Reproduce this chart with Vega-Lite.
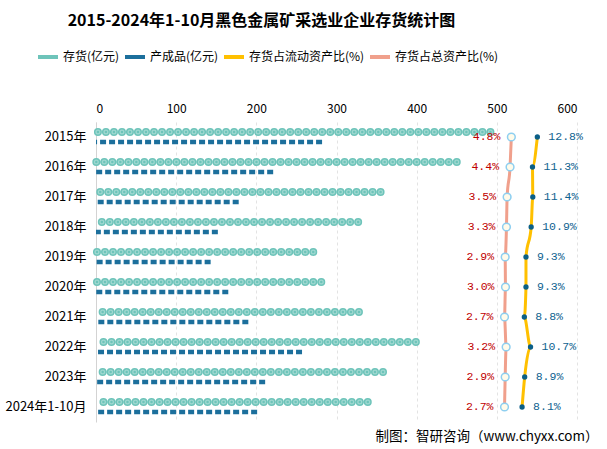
{
  "$schema": "https://vega.github.io/schema/vega-lite/v6.json",
  "autosize": "none",
  "padding": {"left": 96, "top": 122, "right": 30, "bottom": 27},
  "width": 481,
  "height": 300,
  "background": "white",
  "config": {"view": {"stroke": null}, "font": "Noto Sans CJK SC"},
  "title": {"text": "2015-2024年1-10月黑色金属矿采选业企业存货统计图", "font": "Noto Sans CJK SC", "fontSize": 16, "fontWeight": "bold", "color": "#000000", "anchor": "middle", "dx": -75, "offset": 16},
  "data": {"values": [
    {"year": "2015年", "stock": 497, "product": 282, "cur": 0.128, "tot": 0.048},
    {"year": "2016年", "stock": 455, "product": 221, "cur": 0.113, "tot": 0.044},
    {"year": "2017年", "stock": 360, "product": 178, "cur": 0.114, "tot": 0.035},
    {"year": "2018年", "stock": 332, "product": 152, "cur": 0.109, "tot": 0.033},
    {"year": "2019年", "stock": 276, "product": 143, "cur": 0.093, "tot": 0.029},
    {"year": "2020年", "stock": 286, "product": 165, "cur": 0.093, "tot": 0.030},
    {"year": "2021年", "stock": 333, "product": 190, "cur": 0.088, "tot": 0.027},
    {"year": "2022年", "stock": 404, "product": 257, "cur": 0.107, "tot": 0.032},
    {"year": "2023年", "stock": 363, "product": 211, "cur": 0.089, "tot": 0.029},
    {"year": "2024年1-10月", "stock": 344, "product": 201, "cur": 0.081, "tot": 0.027}
  ]},
  "encoding": {
    "y": {"field": "year", "type": "nominal", "sort": null,
      "axis": {"title": null, "ticks": false, "domain": true, "domainColor": "#d3d3d3", "labelPadding": 10, "labelFontSize": 13, "labelColor": "#000000", "labelFont": "Noto Sans CJK SC", "grid": false}}
  },
  "layer": [
    {
      "layer": [
        {
          "mark": {"type": "rule", "strokeWidth": 8, "strokeCap": "round", "strokeDash": [0.01, 8], "yOffset": -5, "xOffset": -4},
          "encoding": {
            "x": {"field": "stock", "type": "quantitative", "scale": {"domain": [0, 600], "nice": false}, "axis": {"orient": "top", "values": [0, 100, 200, 300, 400, 500, 600], "domain": false, "ticks": false, "grid": true, "gridDash": [3, 3], "gridColor": "#e3e3e3", "labelPadding": 7, "labelFontSize": 12, "labelColor": "#000000", "title": null}},
            "x2": {"datum": 0},
            "color": {"datum": "存货(亿元)", "type": "nominal",
              "scale": {"domain": ["存货(亿元)", "产成品(亿元)", "存货占流动资产比(%)", "存货占总资产比(%)"], "range": ["#6ec4ba", "#1c6f9c", "#ffc000", "#f0a08c"]},
              "legend": {"orient": "none", "legendX": -60, "legendY": -77, "direction": "horizontal", "title": null, "symbolType": "stroke", "symbolStrokeWidth": 4, "symbolSize": 400, "labelFontSize": 12, "labelFont": "Noto Sans CJK SC", "labelColor": "#000000", "columnPadding": -3, "labelOffset": 3}}
          }
        },
        {
          "mark": {"type": "rule", "strokeWidth": 5, "strokeCap": "round", "strokeDash": [0.01, 8], "yOffset": -5, "xOffset": -4, "color": "#9fd8d0"},
          "encoding": {"x": {"field": "stock", "type": "quantitative"}, "x2": {"datum": 0}}
        },
        {
          "mark": {"type": "rule", "strokeWidth": 2.5, "strokeCap": "round", "strokeDash": [0.01, 8], "yOffset": -5, "xOffset": -4, "color": "#6ec4ba"},
          "encoding": {"x": {"field": "stock", "type": "quantitative"}, "x2": {"datum": 0}}
        },
        {
          "mark": {"type": "rule", "strokeWidth": 4.5, "strokeDash": [6, 3], "yOffset": 5},
          "encoding": {"x": {"field": "product", "type": "quantitative"}, "x2": {"datum": 0}, "color": {"datum": "产成品(亿元)", "type": "nominal"}}
        }
      ]
    },
    {
      "layer": [
        {
          "mark": {"type": "line", "strokeWidth": 3, "interpolate": "monotone"},
          "encoding": {
            "x": {"field": "tot", "type": "quantitative", "scale": {"domain": [-1.23, 0.25], "nice": false, "zero": false},
              "axis": {"orient": "bottom", "labels": false, "ticks": false, "domain": false, "grid": false, "title": "制图：智研咨询（www.chyxx.com）", "titleX": 502, "titleY": 14, "titleAlign": "right", "titleBaseline": "middle", "titleFontSize": 13.5, "titleFontWeight": "normal", "titleColor": "#000000", "titleFont": "Noto Sans CJK SC"}},
            "color": {"datum": "存货占总资产比(%)", "type": "nominal"}
          }
        },
        {
          "mark": {"type": "line", "strokeWidth": 3, "interpolate": "monotone"},
          "encoding": {
            "x": {"field": "cur", "type": "quantitative"},
            "color": {"datum": "存货占流动资产比(%)", "type": "nominal"}
          }
        },
        {
          "mark": {"type": "point", "filled": true, "fill": "#fffbea", "stroke": "#8ecff0", "strokeWidth": 1.5, "size": 60, "opacity": 1},
          "encoding": {"x": {"field": "tot", "type": "quantitative"}}
        },
        {
          "mark": {"type": "point", "filled": true, "color": "#0b5f87", "size": 28, "opacity": 1},
          "encoding": {"x": {"field": "cur", "type": "quantitative"}}
        },
        {
          "mark": {"type": "text", "align": "right", "dx": -11, "baseline": "middle", "font": "Liberation Mono", "fontSize": 11.5, "color": "#c00000"},
          "encoding": {"x": {"field": "tot", "type": "quantitative"}, "text": {"field": "tot", "format": ".1%"}}
        },
        {
          "mark": {"type": "text", "align": "left", "dx": 11, "baseline": "middle", "font": "Liberation Mono", "fontSize": 11.5, "color": "#0e6290"},
          "encoding": {"x": {"field": "cur", "type": "quantitative"}, "text": {"field": "cur", "format": ".1%"}}
        }
      ]
    }
  ],
  "resolve": {"scale": {"x": "independent"}, "axis": {"x": "independent"}}
}
